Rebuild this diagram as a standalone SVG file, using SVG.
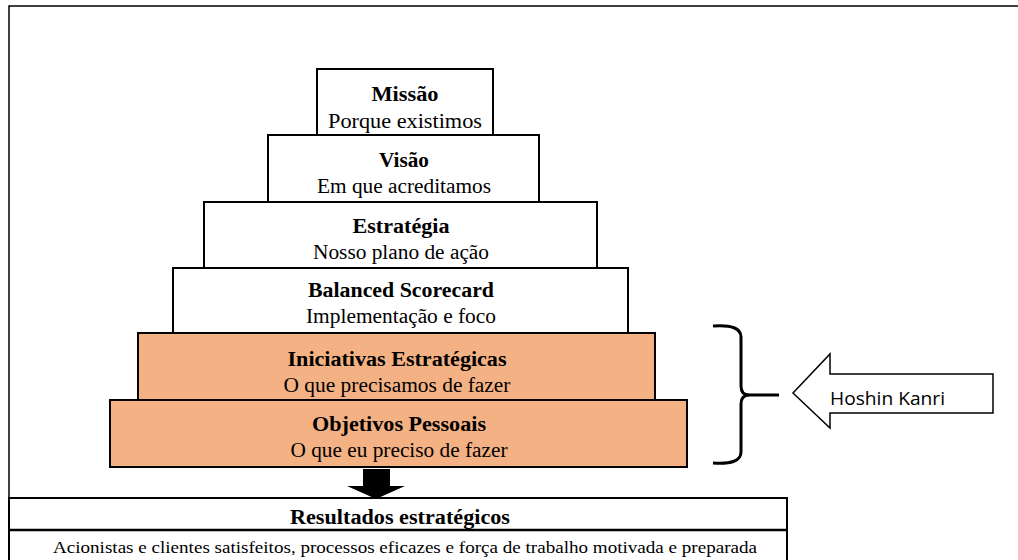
<svg xmlns="http://www.w3.org/2000/svg" width="1018" height="560" viewBox="0 0 1018 560">
<style>
.box{fill:#fff;stroke:#000;stroke-width:2}
.org{fill:#F4B183;stroke:#000;stroke-width:2}
</style>
<rect width="1018" height="560" fill="#fff"/>
<path d="M9,560 L9,6 L1018,6" fill="none" stroke="#000" stroke-width="1.5"/>
<g id="missao">
<rect class="box" x="317" y="69" width="176" height="66"/>
<text font-family="Liberation Serif" font-size="20" font-weight="bold" text-anchor="middle" x="405" y="101" textLength="67" lengthAdjust="spacingAndGlyphs">Missão</text>
<text font-family="Liberation Serif" font-size="20" text-anchor="middle" x="405" y="128" textLength="154" lengthAdjust="spacingAndGlyphs">Porque existimos</text>
</g>
<g id="visao">
<rect class="box" x="268" y="135" width="271" height="67"/>
<text font-family="Liberation Serif" font-size="20" font-weight="bold" text-anchor="middle" x="404" y="167" textLength="50" lengthAdjust="spacingAndGlyphs">Visão</text>
<text font-family="Liberation Serif" font-size="20" text-anchor="middle" x="404" y="193" textLength="174" lengthAdjust="spacingAndGlyphs">Em que acreditamos</text>
</g>
<g id="estrategia">
<rect class="box" x="204" y="202" width="393" height="66"/>
<text font-family="Liberation Serif" font-size="20" font-weight="bold" text-anchor="middle" x="401" y="233" textLength="97" lengthAdjust="spacingAndGlyphs">Estratégia</text>
<text font-family="Liberation Serif" font-size="20" text-anchor="middle" x="401" y="259" textLength="176" lengthAdjust="spacingAndGlyphs">Nosso plano de ação</text>
</g>
<g id="bsc">
<rect class="box" x="173" y="268" width="455" height="65"/>
<text font-family="Liberation Serif" font-size="20" font-weight="bold" text-anchor="middle" x="401" y="297" textLength="186" lengthAdjust="spacingAndGlyphs">Balanced Scorecard</text>
<text font-family="Liberation Serif" font-size="20" text-anchor="middle" x="401" y="323" textLength="190" lengthAdjust="spacingAndGlyphs">Implementação e foco</text>
</g>
<g id="iniciativas">
<rect class="org" x="138" y="333" width="517" height="67"/>
<text font-family="Liberation Serif" font-size="20" font-weight="bold" text-anchor="middle" x="397" y="366" textLength="219" lengthAdjust="spacingAndGlyphs">Iniciativas Estratégicas</text>
<text font-family="Liberation Serif" font-size="20" text-anchor="middle" x="397" y="392" textLength="227" lengthAdjust="spacingAndGlyphs">O que precisamos de fazer</text>
</g>
<g id="objetivos">
<rect class="org" x="110" y="400" width="577" height="67"/>
<text font-family="Liberation Serif" font-size="20" font-weight="bold" text-anchor="middle" x="399" y="431" textLength="174" lengthAdjust="spacingAndGlyphs">Objetivos Pessoais</text>
<text font-family="Liberation Serif" font-size="20" text-anchor="middle" x="399" y="457" textLength="217" lengthAdjust="spacingAndGlyphs">O que eu preciso de fazer</text>
</g>
<g id="resultados">
<rect class="box" x="9" y="498" width="778" height="70"/>
<line x1="9" y1="530" x2="787" y2="530" stroke="#000" stroke-width="2.5"/>
<text font-family="Liberation Serif" font-size="20" font-weight="bold" text-anchor="middle" x="400" y="524" textLength="220" lengthAdjust="spacingAndGlyphs">Resultados estratégicos</text>
<text font-family="Liberation Serif" font-size="17" text-anchor="middle" x="405" y="553" textLength="704" lengthAdjust="spacingAndGlyphs">Acionistas e clientes satisfeitos, processos eficazes e força de trabalho motivada e preparada</text>
</g>
<g id="hoshin">
<polygon points="793,393 830,354 830,374 993,374 993,413 830,413 830,428" fill="#fff" stroke="#000" stroke-width="1.5"/>
<text font-family="Open Sans" font-size="18" x="830" y="405" textLength="115" lengthAdjust="spacingAndGlyphs">Hoshin Kanri</text>
</g>
<g id="connectors">
<polygon points="363,469 390,469 390,486 405,486 376,499 347,486 363,486" fill="#000"/>
<path d="M713,326 Q741,324 741,337 L741,386 Q741,395 749,395 Q741,395 741,404 L741,452 Q741,465 713,463" fill="none" stroke="#000" stroke-width="3"/>
<line x1="748" y1="395" x2="779" y2="395" stroke="#000" stroke-width="3"/>
</g>
</svg>
